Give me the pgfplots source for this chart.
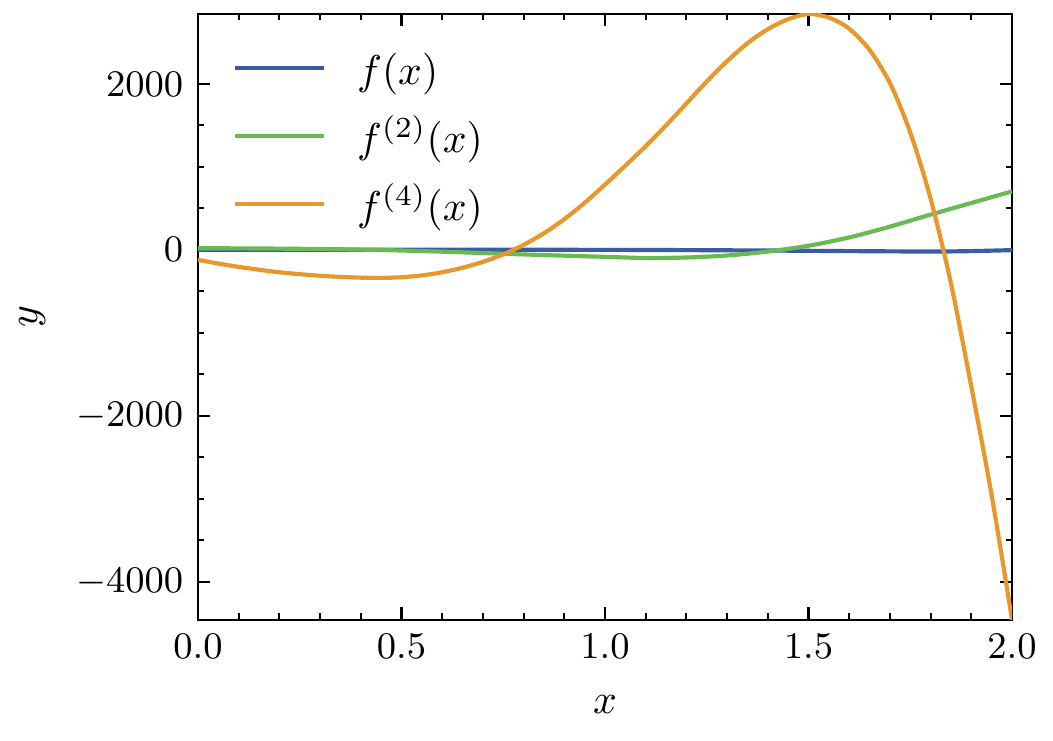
\documentclass[border=0pt]{standalone}
\usepackage{pgfplots}
\pgfplotsset{compat=1.18}
\definecolor{cblue}{RGB}{58,92,163}
\definecolor{cgreen}{RGB}{106,186,84}
\definecolor{corange}{RGB}{233,150,42}
\begin{document}
\begin{tikzpicture}
\begin{axis}[name=ax, scale only axis, width=195.4pt, height=145.4pt,
  xmin=0, xmax=2, ymin=-4458, ymax=2843,
  xtick={0,0.5,1,1.5,2}, ytick={-4000,-2000,0,2000},
  minor x tick num=4, minor y tick num=3,
  tick align=inside, major tick length=3pt, minor tick length=1.5pt,
  every tick/.style={black, line width=0.5pt},
  axis line style={line width=0.5pt},
  xticklabel style={/pgf/number format/fixed, /pgf/number format/fixed zerofill, /pgf/number format/precision=1},
  yticklabel style={/pgf/number format/1000 sep={}},
  ticklabel style={font=\fontsize{9}{10}\selectfont},
  xlabel={$x$}, ylabel={$y$},
  label style={font=\fontsize{10}{12}\selectfont},
  xlabel style={at={(axis description cs:0.5,-0.1403)}, anchor=center},
  ylabel style={at={(axis description cs:-0.2037,0.5)}, anchor=center},
  legend cell align=left,
  legend image code/.code={\draw[#1] (0pt,0pt) -- (21.4pt,0pt);},
  legend style={draw=none, fill=none, at={(axis description cs:0,1)}, anchor=north west,
    xshift=8.4pt, yshift=-8.9pt, inner sep=0pt, outer sep=0pt, row sep=8.1pt, column sep=7.4pt,
    font=\fontsize{10}{12}\selectfont,
    nodes={inner xsep=0pt, inner ysep=0pt, text height=8pt, text depth=0.2pt}},
]
\addplot[cblue, line width=1pt, smooth] coordinates {
(0.0,2) (0.25,2) (0.5,2) (0.75,1) (1.0,0) (1.2,-3) (1.4,-8) (1.6,-15) (1.8,-20) (1.9,-15) (2.0,-3)};
\addlegendentry{$f(x)$}
\addplot[cgreen, line width=1pt, smooth] coordinates {
(0.0,20) (0.1,18) (0.2,15) (0.3,10) (0.4,3) (0.5,-8) (0.6,-22) (0.7,-38) (0.8,-55) (0.9,-70)
(1.0,-84) (1.1,-98) (1.2,-92) (1.3,-68) (1.4,-20) (1.5,50) (1.6,150) (1.7,280) (1.8,425) (1.9,565) (2.0,705)};
\addlegendentry{$f^{(2)}(x)$}
\addplot[corange, line width=1pt, smooth] coordinates {
(0.00,-120) (0.05,-165) (0.10,-205) (0.15,-240) (0.20,-270) (0.25,-293) (0.30,-312) (0.35,-326)
(0.40,-335) (0.45,-338) (0.50,-330) (0.55,-308) (0.60,-270) (0.65,-215) (0.70,-145) (0.75,-55)
(0.80,60) (0.85,200) (0.90,370) (0.95,567) (1.00,787) (1.05,1015) (1.10,1250) (1.15,1500)
(1.20,1765) (1.25,2030) (1.30,2275) (1.35,2490) (1.40,2660) (1.45,2780) (1.50,2843) (1.55,2800)
(1.60,2665) (1.65,2410) (1.70,2010) (1.75,1415) (1.80,615) (1.85,-405) (1.90,-1650) (1.95,-2960) (2.00,-4458)};
\addlegendentry{$f^{(4)}(x)$}
\end{axis}
\pgfresetboundingbox
\path ([shift={(-47.52pt,-29.04pt)}]ax.south west) rectangle ([shift={(9.84pt,3.36pt)}]ax.north east);
\end{tikzpicture}
\end{document}
